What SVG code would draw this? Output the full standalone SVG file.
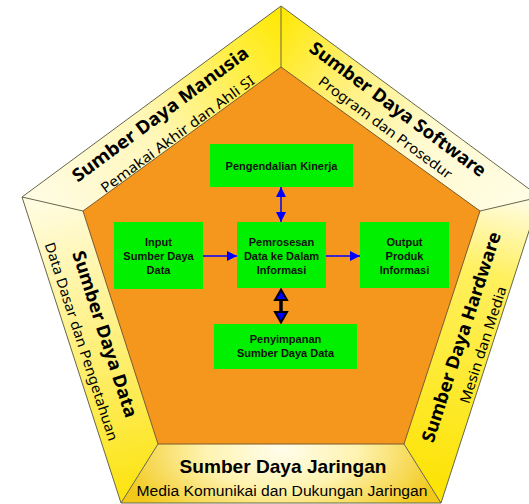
<svg xmlns="http://www.w3.org/2000/svg" width="529" height="504" viewBox="0 0 529 504">
<defs>
<style>
.edge{fill:none;stroke:#66664a;stroke-width:1;stroke-linejoin:round}
.inner{fill:#F5971D;stroke:#7a5a2a;stroke-width:1}
.box{fill:#00F000}
.bt{font-family:"Liberation Sans",Arial,sans-serif;font-weight:bold;font-size:11px;fill:#111;text-anchor:middle}
.pt{font-family:"Noto Sans","Open Sans",sans-serif;font-weight:bold;font-size:18px;fill:#000;text-anchor:middle}
.ps{font-family:"Noto Sans","Open Sans",sans-serif;font-size:14px;fill:#000;text-anchor:middle}
.bl{fill:none;stroke:#0000FF;stroke-width:1.5}
</style>
<linearGradient id="gTL" gradientUnits="userSpaceOnUse" x1="22" y1="197" x2="281" y2="6">
<stop offset="0" stop-color="#FFFCE6"/><stop offset="0.45" stop-color="#FFF7B8"/><stop offset="0.8" stop-color="#FFEE40"/><stop offset="1" stop-color="#FFE800"/>
</linearGradient>
<linearGradient id="gTR" gradientUnits="userSpaceOnUse" x1="281" y1="6" x2="540" y2="197">
<stop offset="0" stop-color="#FFE800"/><stop offset="0.3" stop-color="#FFF07A"/><stop offset="0.6" stop-color="#FFFAD0"/><stop offset="1" stop-color="#FFFDE6"/>
</linearGradient>
<linearGradient id="gL" gradientUnits="userSpaceOnUse" x1="50" y1="197" x2="130" y2="503">
<stop offset="0" stop-color="#FFFCE2"/><stop offset="0.4" stop-color="#FFF290"/><stop offset="1" stop-color="#FCE30A"/>
</linearGradient>
<linearGradient id="gR" gradientUnits="userSpaceOnUse" x1="510" y1="197" x2="440" y2="503">
<stop offset="0" stop-color="#FFFCE2"/><stop offset="0.25" stop-color="#FFF060"/><stop offset="1" stop-color="#FCE300"/>
</linearGradient>
<radialGradient id="gB" gradientUnits="userSpaceOnUse" cx="281" cy="450" r="170" gradientTransform="translate(281 450) scale(1 0.5) translate(-281 -450)">
<stop offset="0" stop-color="#FFFDEC"/><stop offset="0.45" stop-color="#FEF3B0"/><stop offset="1" stop-color="#F2C81A"/>
</radialGradient>
<marker id="ah" viewBox="0 0 10 10" refX="10" refY="5" markerUnits="userSpaceOnUse" markerWidth="10" markerHeight="10" orient="auto-start-reverse">
<path d="M0,0 L10,5 L0,10 z" fill="#0000FF"/>
</marker>
</defs>

<g id="frame">
<polygon points="22,197 281,6 281,67 83,211" fill="url(#gTL)"/>
<polygon points="281,6 540,197 480,211 281,67" fill="url(#gTR)"/>
<polygon points="22,197 83,211 158,444 121,503" fill="url(#gL)"/>
<polygon points="540,197 441,503 404,444 480,211" fill="url(#gR)"/>
<polygon points="158,444 404,444 441,503 121,503" fill="url(#gB)"/>
<polygon class="inner" points="281,67 480,211 404,444 158,444 83,211"/>
<polygon class="edge" points="281,6 540,197 441,503 121,503 22,197"/>
<path class="edge" d="M281,6 L281,67 M540,197 L480,211 M441,503 L404,444 M121,503 L158,444 M22,197 L83,211"/>
</g>

<g id="panel-manusia">
<text class="pt" transform="translate(160,114) rotate(-36.4)" y="6.5" textLength="214" lengthAdjust="spacingAndGlyphs">Sumber Daya Manusia</text>
<text class="ps" transform="translate(177.5,134) rotate(-36.4)" y="5" textLength="187" lengthAdjust="spacingAndGlyphs">Pemakai Akhir dan Ahli SI</text>
</g>
<g id="panel-software">
<text class="pt" transform="translate(398,109) rotate(36.4)" y="6.5" textLength="214" lengthAdjust="spacingAndGlyphs">Sumber Daya Software</text>
<text class="ps" transform="translate(385.5,127.5) rotate(36.4)" y="5" textLength="162" lengthAdjust="spacingAndGlyphs">Program dan Prosedur</text>
</g>
<g id="panel-data">
<text class="pt" transform="translate(105,334) rotate(72)" y="6.5" textLength="174" lengthAdjust="spacingAndGlyphs">Sumber Daya Data</text>
<text class="ps" transform="translate(81.5,341.5) rotate(72)" y="5" textLength="208" lengthAdjust="spacingAndGlyphs">Data Dasar dan Pengetahuan</text>
</g>
<g id="panel-hardware">
<text class="pt" transform="translate(461,337) rotate(-72)" y="6.5" textLength="220" lengthAdjust="spacingAndGlyphs">Sumber Daya Hardware</text>
<text class="ps" transform="translate(483,345) rotate(-72)" y="5" textLength="122" lengthAdjust="spacingAndGlyphs">Mesin dan Media</text>
</g>
<g id="panel-jaringan">
<text x="283" y="473" font-family="'Liberation Sans',Arial,sans-serif" font-weight="bold" font-size="19" text-anchor="middle" textLength="207" lengthAdjust="spacingAndGlyphs">Sumber Daya Jaringan</text>
<text x="282" y="496" font-family="'Liberation Sans',Arial,sans-serif" font-size="15.5" text-anchor="middle" textLength="291" lengthAdjust="spacingAndGlyphs">Media Komunikai dan Dukungan Jaringan</text>
</g>

<g id="connectors">
<line class="bl" x1="203" y1="256" x2="237" y2="256" marker-end="url(#ah)"/>
<line class="bl" x1="326" y1="256" x2="360" y2="256" marker-end="url(#ah)"/>
<line class="bl" x1="281" y1="187" x2="281" y2="222" marker-start="url(#ah)" marker-end="url(#ah)"/>
<g id="storage-link">
<line x1="281" y1="296" x2="281" y2="316" stroke="#000" stroke-width="3.5"/>
<polygon points="281,289.5 287,300 275,300" fill="#0000FF" stroke="#000" stroke-width="2" stroke-linejoin="miter"/>
<polygon points="281,322.5 287,312 275,312" fill="#0000FF" stroke="#000" stroke-width="2" stroke-linejoin="miter"/>
</g>
</g>

<g id="node-pengendalian">
<rect class="box" x="210" y="144" width="143" height="43"/>
<text class="bt" x="281.5" y="170">Pengendalian  Kinerja</text>
</g>
<g id="node-input">
<rect class="box" x="114" y="222" width="89" height="67"/>
<text class="bt" x="158.5" y="246">Input</text>
<text class="bt" x="158.5" y="260">Sumber  Daya</text>
<text class="bt" x="158.5" y="274">Data</text>
</g>
<g id="node-pemrosesan">
<rect class="box" x="237" y="222" width="89" height="66"/>
<text class="bt" x="281.5" y="246">Pemrosesan</text>
<text class="bt" x="281.5" y="260">Data ke Dalam</text>
<text class="bt" x="281.5" y="274">Informasi</text>
</g>
<g id="node-output">
<rect class="box" x="360" y="222" width="89" height="66"/>
<text class="bt" x="404.5" y="246">Output</text>
<text class="bt" x="404.5" y="260">Produk</text>
<text class="bt" x="404.5" y="274">Informasi</text>
</g>
<g id="node-penyimpanan">
<rect class="box" x="214" y="324" width="143" height="45"/>
<text class="bt" x="285.5" y="343">Penyimpanan</text>
<text class="bt" x="285.5" y="357">Sumber Daya Data</text>
</g>
</svg>
